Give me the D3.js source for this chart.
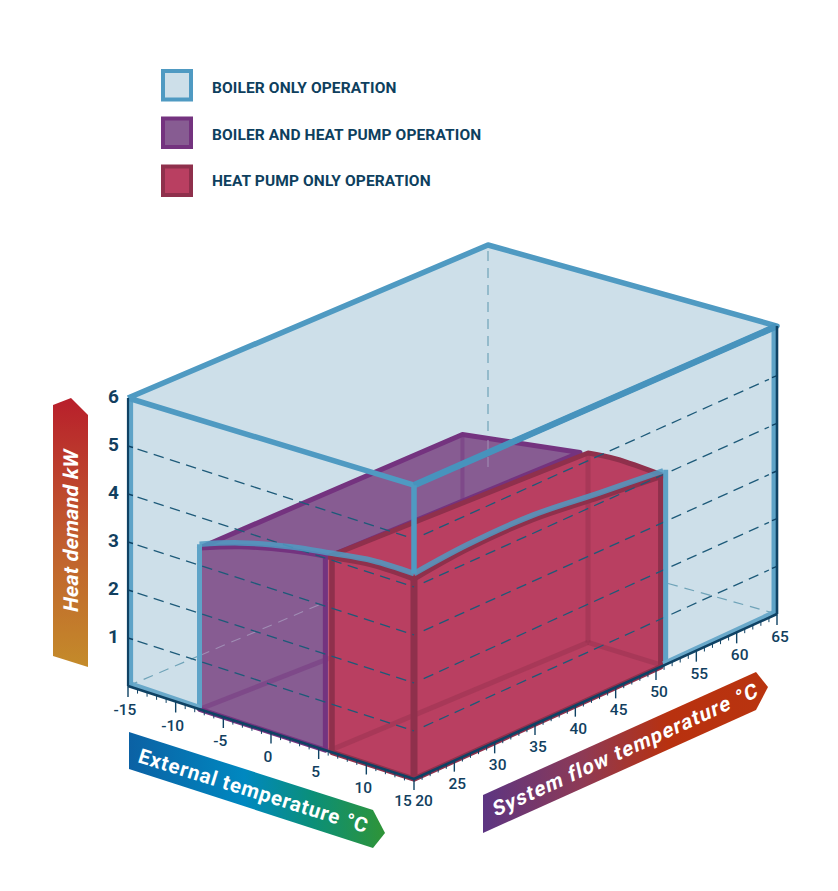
<!DOCTYPE html>
<html>
<head>
<meta charset="utf-8">
<script src="https://cdn.jsdelivr.net/npm/d3@7"></script>
<style>
  html, body { margin: 0; background: #fff; }
  svg { display: block; }
  text { font-family: Roboto, sans-serif; }
  .legend { font-size: 15.5px; font-weight: 700; fill: #0e3f5e; letter-spacing: 0.12px; }
  .tick { font-size: 15.5px; font-weight: 500; fill: #123f5f; text-anchor: middle; }
  .heat { font-size: 19px; font-weight: 700; fill: #123f5f; text-anchor: middle; }
  .banner { font-size: 20.5px; font-weight: 700; fill: #fff; }
</style>
</head>
<body>
<svg id="chart" width="838" height="891"></svg>
<script>
const legendLabels = ["BOILER ONLY OPERATION", "BOILER AND HEAT PUMP OPERATION", "HEAT PUMP ONLY OPERATION"]
const extTicks = [-15, -10, -5, 0, 5, 10, 15]
const flowTicks = [20, 25, 30, 35, 40, 45, 50, 55, 60, 65]
const heatTicks = [1, 2, 3, 4, 5, 6]
const gridLevels = [1, 2, 3, 4, 5]

// [ext, flow, heat]
const boilerEdge = [[-7.5, 20, 3.44], [-3.25, 20, 3.74], [2, 20, 4.0], [6.2, 20, 4.14], [10.7, 20, 4.27], [15, 20, 4.28]]
const boilerEdgeRight = [[15, 20, 4.28], [15, 26.6, 4.38], [15, 34.75, 4.38], [15, 43, 4.22], [15, 50.9, 4.08]]
const purpleEdge = [[-7.5, 20, 3.36], [-3.25, 20, 3.66], [2, 20, 3.92], [6, 20, 4.05]]
const redEdge = [[6, 20, 4.05], [10.7, 20, 4.18], [15, 20, 4.17]]
const redEdgeRight = [[15, 20, 4.17], [15, 26.6, 4.29], [15, 34.75, 4.29], [15, 43, 4.13], [15, 50.9, 3.98]]
const redBackEdge = [[15, 50.9, 3.98], [10, 51, 4.02], [7, 51.1, 3.96]]
const purpleBack = [[-6, 51, 3.58], [6.5, 50.7, 3.97]]
const redBackBase = [[7, 51.1, 0], [15, 50.9, 0]]
const boxTop = [[-15, 20, 6], [-15, 65, 6], [15, 65, 6.04], [15, 20, 6.12]]

const svg = d3.select("#chart")

const extScale = d3.scaleLinear().domain([-15, 15]).range([0, 1])
const flowScale = d3.scaleLinear().domain([20, 65]).range([0, 1])
const heatScale = d3.scaleLinear().domain([0, 6]).range([0, 1])

// corners of the drawing box: ext/flow = (-15,20) (15,20) (15,65) (-15,65)
const floorCorners = [[128, 686], [414, 779], [777, 614], [488, 533]]
const topCorners = [[128, 398], [414, 491], [777, 328], [488, 245]]

const lerp = (a, b, t) => a + (b - a) * t
function bilinear(c, u, v, k) {
  return lerp(lerp(c[0][k], c[1][k], u), lerp(c[3][k], c[2][k], u), v)
}
function project(d) {
  const u = extScale(d[0])
  const v = flowScale(d[1])
  const w = heatScale(d[2])
  return [0, 1].map(k => lerp(bilinear(floorCorners, u, v, k), bilinear(topCorners, u, v, k), w))
}

const straight = d3.line().x(d => project(d)[0]).y(d => project(d)[1])
const curved = d3.line().x(d => project(d)[0]).y(d => project(d)[1]).curve(d3.curveCatmullRom)

const navy = "#0f4264"
const blueLine = "#4f9ac2"
const purpleLine = "#74337f"
const redLine = "#8f304c"
const boxFill = "#cddfe9"
const purpleFill = "#875c92"
const redFill = "#b93f61"

function addLine(data, stroke, width, gen) {
  return svg.append("path")
    .attr("d", (gen || straight)(data))
    .attr("fill", "none")
    .attr("stroke", stroke)
    .attr("stroke-width", width)
    .attr("stroke-linejoin", "round")
}

// gradients for the arrow banners
const defs = svg.append("defs")
function addGradient(id, stops, x2, y2) {
  const g = defs.append("linearGradient").attr("id", id)
    .attr("x1", 0).attr("y1", 0).attr("x2", x2).attr("y2", y2)
  stops.forEach(s => g.append("stop").attr("offset", s[0]).attr("stop-color", s[1]))
}
addGradient("heatGrad", [[0, "#b81f2b"], [0.5, "#c05a2e"], [1, "#c48b2a"]], 0, 1)
addGradient("extGrad", [[0, "#0b61a4"], [0.45, "#0088c0"], [0.72, "#0b8f78"], [1, "#2f9437"]], 1, 0)
addGradient("flowGrad", [[0, "#5c3582"], [0.35, "#8e3a55"], [0.65, "#b8310f"], [1, "#b9340f"]], 1, 0)

// box background
svg.append("path")
  .attr("d", straight([[-15, 20, 0], [15, 20, 0], [15, 65, 0], [15, 65, 6.04], [-15, 65, 6], [-15, 20, 6]]) + "Z")
  .attr("fill", boxFill)

// hidden edges of the box
const hidden = [[[-15, 20, 0], [-15, 65, 0]], [[-15, 65, 0], [15, 65, 0]], [[-15, 65, 0], [-15, 65, 6]]]
hidden.forEach(h => addLine(h, "#6fa3b8", 1.2).attr("stroke-dasharray", "10 7"))

// purple volume, top then front
svg.append("path")
  .attr("d", curved(purpleEdge) + "L" + straight(purpleBack.slice().reverse()).slice(1) + "Z")
  .attr("fill", purpleFill).attr("stroke", purpleLine).attr("stroke-width", 5).attr("stroke-linejoin", "round")
addLine([[-6, 51, 3.58], [-6, 51, 2]], purpleLine, 4).attr("opacity", 0.45)
addLine([[-15, 65, 1.94], [-15, 65, 1.3]], "#a08db4", 1.1).attr("stroke-dasharray", "10 7")

// red volume, top
svg.append("path")
  .attr("d", curved(redEdge) + "L" + curved(redEdgeRight).slice(1) + "L" + curved(redBackEdge).slice(1) + "Z")
  .attr("fill", redFill).attr("stroke", redLine).attr("stroke-width", 5).attr("stroke-linejoin", "round")

// purple front wall, the floor line and rear corner show through it
svg.append("path")
  .attr("d", curved(purpleEdge) + "L" + straight([[6, 20, 0], [-7.5, 20, 0]]).slice(1) + "Z")
  .attr("fill", purpleFill)
addLine([[-15, 29, 0], [-15, 45, 0]], "#a08db4", 1.1).attr("stroke-dasharray", "10 7")
addLine([[-7.5, 20, 0], [-6, 51, 0]], purpleLine, 5).attr("opacity", 0.45)

// red front and right walls
svg.append("path")
  .attr("d", curved(redEdge) + "L" + straight([[15, 20, 0], [6, 20, 0]]).slice(1) + "Z")
  .attr("fill", redFill)
svg.append("path")
  .attr("d", curved(redEdgeRight) + "L" + straight([[15, 50.9, 0], [15, 20, 0]]).slice(1) + "Z")
  .attr("fill", redFill)

// floor and rear lines seen through the walls
addLine([[6, 20, 0], [7, 51.1, 0]], redLine, 5).attr("opacity", 0.4)
addLine(redBackBase, redLine, 5).attr("opacity", 0.4)
addLine([[7, 51.1, 0], [7, 51.1, 3.96]], redLine, 5).attr("opacity", 0.4)

// wall outlines
addLine(purpleEdge, purpleLine, 5, curved)
addLine([[-7.5, 20, 3.36], [-7.5, 20, 0], [5.7, 20, 0], [5.7, 20, 4.02]], purpleLine, 5)
addLine(redEdge, redLine, 5.5, curved)
addLine(redEdgeRight, redLine, 5.5, curved)
addLine([[6.4, 20, 4.06], [6.4, 20, 0], [15, 20, 0], [15, 50.6, 0], [15, 50.6, 3.98]], redLine, 5.5)
addLine([[15, 20, 4.17], [15, 20, 0]], redLine, 7)

// grid, front and right faces
gridLevels.forEach(h => {
  addLine([[-14, 20, h], [15, 20, h]], "#1d5a79", 1.3).attr("stroke-dasharray", "10.5 6.5")
  addLine([[15, 21.2, h], [15, 64, h]], "#1d5a79", 1.3).attr("stroke-dasharray", "10.5 6.5")
})

// blue outline of the boiler region
addLine(boilerEdge, blueLine, 5.5, curved).attr("opacity", 0.85)
addLine(boilerEdgeRight, blueLine, 5.5, curved).attr("opacity", 0.85)
addLine([[-7.5, 20, 3.44], [-7.5, 20, 0.02]], "#5ea3c7", 5)
addLine([[15, 51.2, 4.08], [15, 51.2, 0.02]], "#5ea3c7", 5)
addLine([[-14.8, 20, 0.06], [-7.5, 20, 0.04]], "#6aa9ca", 5)
addLine([[15, 50.9, 0.04], [15, 64.6, 0.06]], "#6aa9ca", 5)
addLine([[-14.7, 20, 0], [-14.7, 20, 6]], "#5ea3c7", 4.5)
addLine([[15, 64.6, 0], [15, 64.6, 6]], "#5ea3c7", 4.5)

// front edges of the box
addLine(boxTop.concat([boxTop[0]]), blueLine, 5.5)
addLine([[15, 65, 6.04], [15, 20, 6.12]], "#4793bd", 6.5)
addLine([[15, 20, 6.12], [15, 20, 4.28]], blueLine, 5.5)

// axes
addLine([[-15, 20, 0], [15, 20, 0], [15, 65, 0]], navy, 2.6)
addLine([[-15, 20, 0], [-15, 20, 6]], navy, 2.2)
addLine([[15, 65, 0], [15, 65, 6.04]], navy, 2.6)

const axisGroup = svg.append("g").attr("stroke", navy)
const tickLine = (p, dx, dy, w) => axisGroup.append("line")
  .attr("x1", p[0]).attr("y1", p[1]).attr("x2", p[0] + dx).attr("y2", p[1] + dy).attr("stroke-width", w)

d3.range(-15, 16).forEach(e => {
  const major = e % 5 === 0
  tickLine(project([e, 20, 0]), 0, major ? 11 : 4.5, major ? 1.4 : 1)
})
d3.range(21, 66).forEach(f => {
  const major = f % 5 === 0
  tickLine(project([15, f, 0]), 0, major ? 11 : 4.5, major ? 1.4 : 1)
})
heatTicks.slice(0, 5).forEach(h => {
  tickLine(project([-15, 20, h]), 5, 1.5, 1.4)
  tickLine(project([15, 65, h]), -5, 2, 1.4)
})

svg.selectAll(".ext").data(extTicks).enter().append("text")
  .attr("class", "tick ext")
  .attr("x", d => project([d, 20, 0])[0] + (d === 15 ? -11 : -3))
  .attr("y", d => project([d, 20, 0])[1] + (d === 15 ? 27 : 29))
  .text(d => d)

svg.selectAll(".flow").data(flowTicks).enter().append("text")
  .attr("class", "tick flow")
  .attr("x", d => project([15, d, 0])[0] + (d === 20 ? 10 : 3))
  .attr("y", d => project([15, d, 0])[1] + (d === 20 ? 27 : 28))
  .text(d => d)

svg.selectAll(".heat").data(heatTicks).enter().append("text")
  .attr("class", "heat")
  .attr("x", 113.5)
  .attr("y", d => project([-15, 20, d])[1] + 5)
  .text(d => d)

// legend
const legendFills = [boxFill, purpleFill, redFill]
const legendStrokes = [blueLine, purpleLine, redLine]
const legendRows = svg.selectAll(".row").data(legendLabels).enter().append("g")
  .attr("transform", (d, i) => `translate(0, ${[71, 118.5, 166.5][i]})`)
legendRows.append("rect")
  .attr("x", 163).attr("y", 0).attr("width", 28).attr("height", 28.5)
  .attr("fill", (d, i) => legendFills[i])
  .attr("stroke", (d, i) => legendStrokes[i])
  .attr("stroke-width", 4)
legendRows.append("text")
  .attr("class", "legend")
  .attr("x", 212).attr("y", (d, i) => [22, 21, 19.5][i])
  .text(d => d)

// arrow banners
const banner = (pts, fill) => svg.append("polygon").attr("points", pts.join(" ")).attr("fill", fill)
banner([[53, 405], [71, 398], [88, 415], [88, 667], [53, 656]], "url(#heatGrad)")
banner([[129, 732], [373, 810], [385, 833], [373, 848], [129, 769]], "url(#extGrad)")
banner([[483, 795], [756, 672], [768, 687], [756, 710], [483, 833]], "url(#flowGrad)")

svg.append("text").attr("class", "banner")
  .attr("transform", "translate(78, 613) rotate(-90) skewX(-12)")
  .attr("letter-spacing", 0.4)
  .text("Heat demand kW")
svg.append("text").attr("class", "banner")
  .attr("transform", "translate(137, 762) rotate(17.3)")
  .attr("letter-spacing", 0.85)
  .text("External temperature °C")
svg.append("text").attr("class", "banner")
  .attr("transform", "translate(495, 817) rotate(-24.6) skewX(-12)")
  .attr("letter-spacing", 1.25)
  .text("System flow temperature °C")
</script>
</body>
</html>
